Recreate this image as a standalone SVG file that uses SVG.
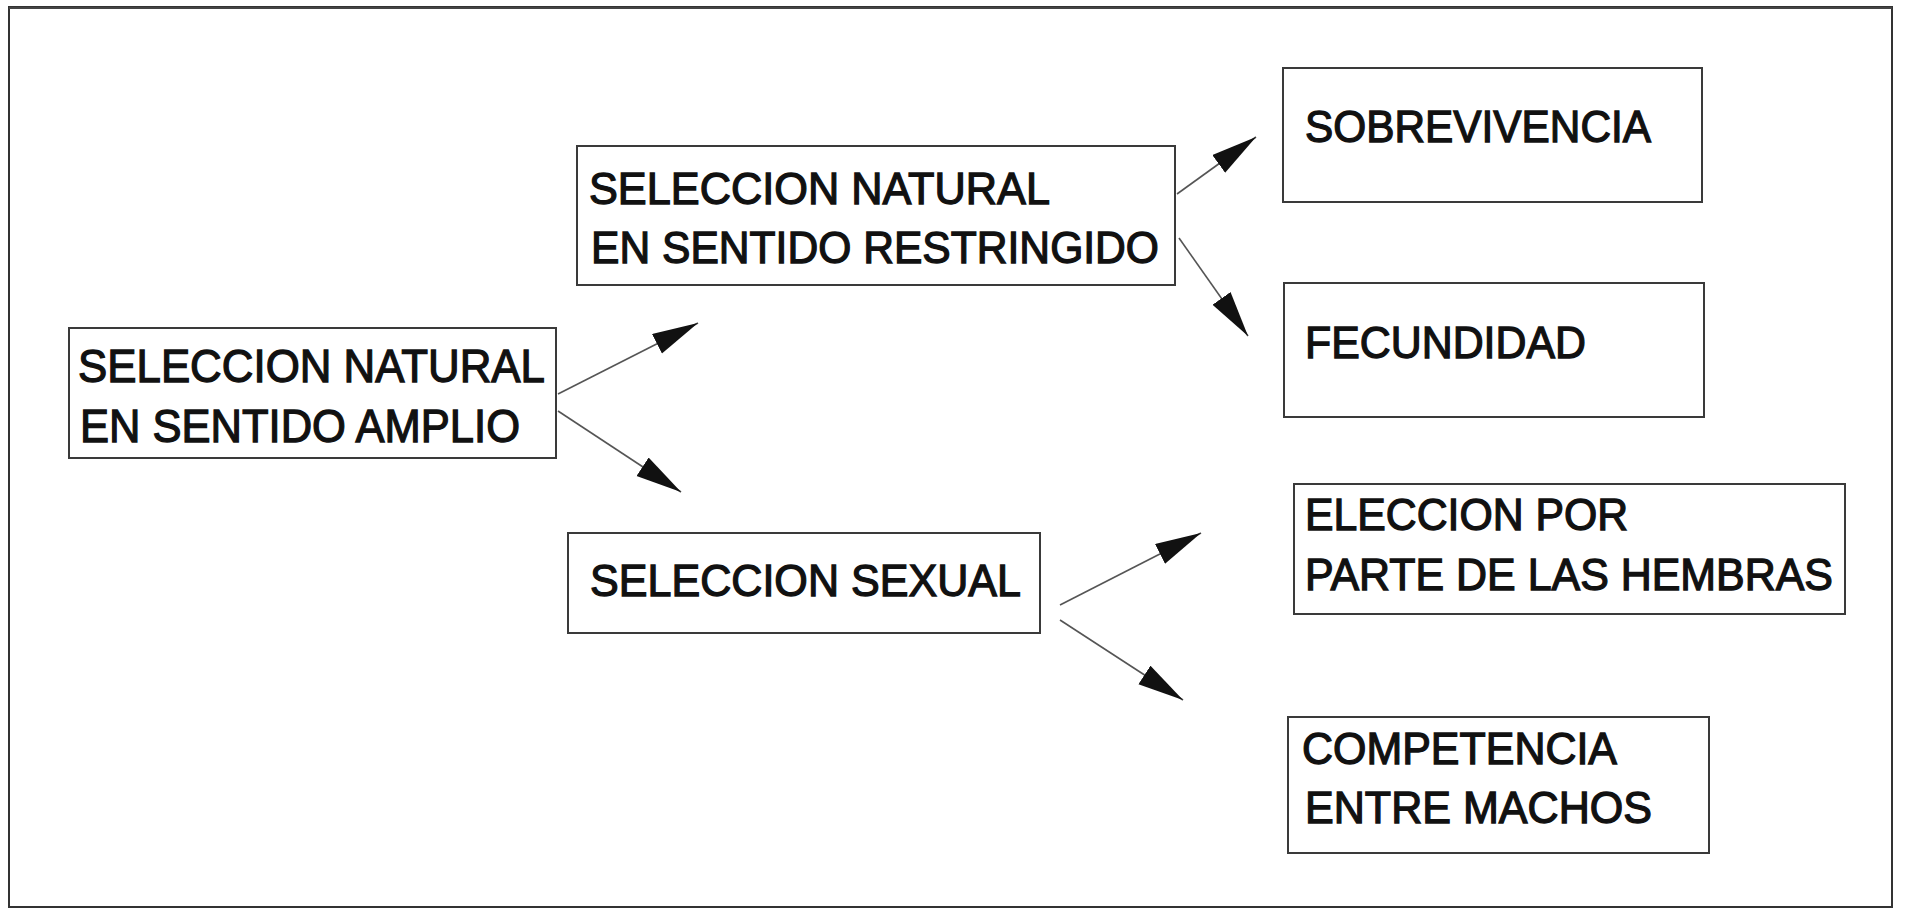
<svg xmlns="http://www.w3.org/2000/svg" width="1906" height="909" viewBox="0 0 1906 909">
<style>
.box{fill:#fff;stroke:#3a3a3a;stroke-width:2}
.t{font-family:"Liberation Sans",Arial,sans-serif;font-size:45px;fill:#111;stroke:#111;stroke-width:1.3}
.big{font-size:47px}
.c{stroke:#555;stroke-width:1.6;fill:none;marker-end:url(#ah)}
</style>
<defs>
<marker id="ah" markerUnits="userSpaceOnUse" markerWidth="48" markerHeight="24" refX="46" refY="11" orient="auto" viewBox="0 0 48 24">
<path d="M0,0 L46,11 L0,22 Z" fill="#111"/>
</marker>
</defs>
<rect width="1906" height="909" fill="#fff"/>
<rect x="9" y="7" width="1883" height="900" fill="none" stroke="#333" stroke-width="2"/>
<line x1="9" y1="8" x2="1892" y2="8" stroke="#444" stroke-width="2"/>
<g id="connectors">
<line class="c" x1="558" y1="394" x2="698" y2="323"/>
<line class="c" x1="558" y1="411" x2="681" y2="492"/>
<line class="c" x1="1177" y1="194" x2="1256" y2="137"/>
<line class="c" x1="1179" y1="238" x2="1248" y2="336"/>
<line class="c" x1="1060" y1="605" x2="1201" y2="533"/>
<line class="c" x1="1060" y1="620" x2="1183" y2="700"/>
</g>
<g id="amplio">
<rect class="box" x="69" y="328" width="487" height="130"/>
<text class="t big" x="78" y="382" textLength="467" lengthAdjust="spacingAndGlyphs">SELECCION NATURAL</text>
<text class="t big" x="80" y="442" textLength="440" lengthAdjust="spacingAndGlyphs">EN SENTIDO AMPLIO</text>
</g>
<g id="restringido">
<rect class="box" x="577" y="146" width="598" height="139"/>
<text class="t" x="589" y="204" textLength="461" lengthAdjust="spacingAndGlyphs">SELECCION NATURAL</text>
<text class="t" x="591" y="263" textLength="568" lengthAdjust="spacingAndGlyphs">EN SENTIDO RESTRINGIDO</text>
</g>
<g id="sobrevivencia">
<rect class="box" x="1283" y="68" width="419" height="134"/>
<text class="t" x="1305" y="142" textLength="346" lengthAdjust="spacingAndGlyphs">SOBREVIVENCIA</text>
</g>
<g id="fecundidad">
<rect class="box" x="1284" y="283" width="420" height="134"/>
<text class="t" x="1305" y="358" textLength="281" lengthAdjust="spacingAndGlyphs">FECUNDIDAD</text>
</g>
<g id="sexual">
<rect class="box" x="568" y="533" width="472" height="100"/>
<text class="t" x="590" y="596" textLength="431" lengthAdjust="spacingAndGlyphs">SELECCION SEXUAL</text>
</g>
<g id="hembras">
<rect class="box" x="1294" y="484" width="551" height="130"/>
<text class="t" x="1305" y="530" textLength="323" lengthAdjust="spacingAndGlyphs">ELECCION POR</text>
<text class="t" x="1305" y="590" textLength="528" lengthAdjust="spacingAndGlyphs">PARTE DE LAS HEMBRAS</text>
</g>
<g id="machos">
<rect class="box" x="1288" y="717" width="421" height="136"/>
<text class="t" x="1302" y="764" textLength="315" lengthAdjust="spacingAndGlyphs">COMPETENCIA</text>
<text class="t" x="1305" y="823" textLength="347" lengthAdjust="spacingAndGlyphs">ENTRE MACHOS</text>
</g>
</svg>
